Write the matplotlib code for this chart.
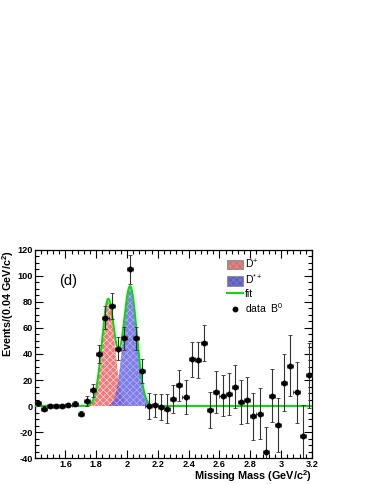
import numpy as np
import matplotlib
matplotlib.use('Agg')
import matplotlib.pyplot as plt
from matplotlib.patches import Patch
from matplotlib.lines import Line2D
from matplotlib.ticker import MultipleLocator

plt.rcParams['font.family'] = ['Liberation Sans', 'DejaVu Sans']
plt.rcParams['mathtext.fontset'] = 'custom'
plt.rcParams['mathtext.rm'] = 'Liberation Sans'
plt.rcParams['mathtext.bf'] = 'Liberation Sans:bold'
plt.rcParams['axes.unicode_minus'] = False
plt.rcParams['hatch.linewidth'] = 0.5

# data B0, bins of 0.04 GeV/c^2
mass = [1.42, 1.46, 1.50, 1.54, 1.58, 1.62, 1.66, 1.70, 1.74, 1.78,
        1.82, 1.86, 1.90, 1.94, 1.98, 2.02, 2.06, 2.10, 2.14, 2.18,
        2.22, 2.26, 2.30, 2.34, 2.38, 2.42, 2.46, 2.50, 2.54, 2.58,
        2.62, 2.66, 2.70, 2.74, 2.78, 2.82, 2.86, 2.90, 2.94, 2.98,
        3.02, 3.06, 3.10, 3.14, 3.18]
events = [2, -2, -0.3, -0.3, -0.3, 0.5, 1.7, -6, 4, 12,
          40, 68, 77, 44, 52, 105, 52, 27, 0, 0.5,
          -1, -2, 5.5, 16, 7, 36, 35.5, 48.5, -3, 11,
          8, 9, 15, 3, 4.5, -8, -6, -35, 8, -14.5,
          18, 31, 10.5, -23, 23.5]
err = [2, 2, 1.5, 1.5, 1.5, 1.5, 2, 2, 4, 5,
       7, 9, 10, 9, 9, 11, 9, 9, 10, 9,
       10, 11, 11, 12, 13, 13.5, 14, 14, 14, 16,
       16, 16, 16.5, 17, 17.5, 18, 19.5, 19, 20.5, 21,
       22, 23.5, 23.5, 24, 25]

# fit components (gaussian peaks)
dp_amp, dp_mu, dp_sig = 82, 1.878, 0.041
dsp_amp, dsp_mu, dsp_sig = 92, 2.020, 0.044

x = np.linspace(1.40, 3.20, 1200)
dp = dp_amp * np.exp(-0.5 * ((x - dp_mu) / dp_sig) ** 2)
dsp = dsp_amp * np.exp(-0.5 * ((x - dsp_mu) / dsp_sig) ** 2)
fit = dp + dsp

fig = plt.figure(figsize=(3.74, 4.84), dpi=100)
ax = fig.add_axes([0.0936, 0.0537, 0.7404, 0.4298])

red_face = '#f07a7a'
blue_face = '#5a5ae0'
ax.fill_between(x, 0, dp, where=dp > 0.3, facecolor=red_face,
                edgecolor='#ffd8d8', hatch='xxxxx', linewidth=0, zorder=1)
ax.fill_between(x, 0, dsp, where=dsp > 0.3, facecolor=blue_face,
                edgecolor='#c0c0ff', hatch='xxxxx', linewidth=0, alpha=0.78, zorder=2)
ax.plot(x, fit, color='#00e000', lw=1.4, zorder=3)

ax.errorbar(mass, events, xerr=0.02, yerr=err, fmt='o', color='black',
            ecolor='#333333', elinewidth=0.8, capsize=1.5, capthick=0.6,
            markersize=3.2, zorder=4)

ax.set_xlim(1.403, 3.20)
ax.set_ylim(-40, 120)

xt = [1.6, 1.8, 2.0, 2.2, 2.4, 2.6, 2.8, 3.0, 3.2]
xtl = ['1.6', '1.8', '2', '2.2', '2.4', '2.6', '2.8', '3', '3.2']
ax.set_xticks(xt)
ax.set_xticklabels(xtl)
ax.xaxis.set_minor_locator(MultipleLocator(0.04))
yt = [-40, -20, 0, 20, 40, 60, 80, 100, 120]
ax.set_yticks(yt)
ax.set_yticklabels([str(v) for v in yt])
ax.yaxis.set_minor_locator(MultipleLocator(5))

ax.tick_params(which='both', direction='in', top=True, right=True,
               labelsize=6.6, pad=1.5, width=0.8)
ax.tick_params(which='major', length=6)
ax.tick_params(which='minor', length=3)
for lab in ax.get_xticklabels() + ax.get_yticklabels():
    lab.set_fontweight('bold')
for s in ax.spines.values():
    s.set_linewidth(0.9)

ax.text(1.562, 96, '(d)', fontsize=10.5, va='center', ha='left')

handles = [
    Patch(facecolor=red_face, edgecolor='#888888', hatch='xxxxx', linewidth=0.6),
    Patch(facecolor=blue_face, edgecolor='#888888', hatch='xxxxx', linewidth=0.6),
    Line2D([], [], color='#00e000', lw=1.4),
    Line2D([], [], color='black', marker='o', ls='none', markersize=3.2),
]
labels = ['D$^{+}$', 'D$^{*+}$', 'fit', 'data  B$^{0}$']
ax.legend(handles, labels, loc='upper left', bbox_to_anchor=(0.68, 0.985),
          frameon=False, fontsize=7.5, handlelength=1.5, handleheight=1.0,
          handletextpad=0.2, labelspacing=0.2, borderaxespad=0)

fig.text(312 / 374, 8 / 484, r'Missing Mass (GeV/c$^{\mathbf{2}}$)',
         ha='right', va='center', fontsize=7.8, fontweight='bold')
fig.text(8 / 374, (484 - 250) / 484, r'Events/(0.04 GeV/c$^{\mathbf{2}}$)',
         ha='center', va='top', rotation=90, fontsize=7.8, fontweight='bold')

fig.savefig('out.png', dpi=100)
